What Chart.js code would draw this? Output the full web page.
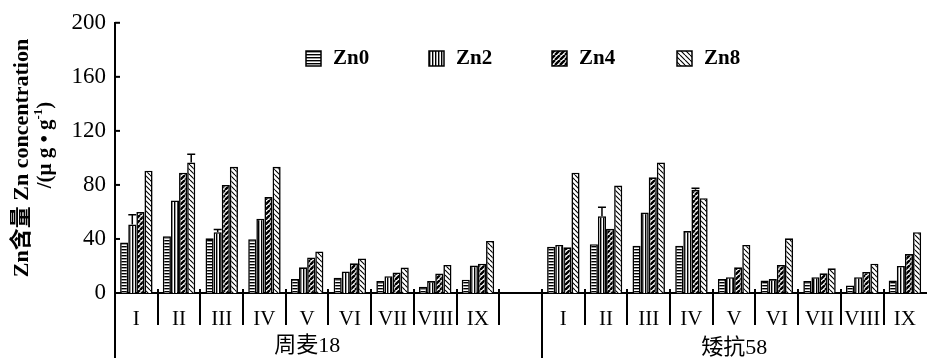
<!DOCTYPE html>
<html>
<head>
<meta charset="UTF-8" />
<title>Zn concentration</title>
<script src="https://cdn.jsdelivr.net/npm/chart.js"></script>
<style>
  body { margin: 0; background: #fff; overflow: hidden; }
</style>
</head>
<body>
<canvas id="chart" width="930" height="362"></canvas>
<script>
// categories: 9 stages per cultivar, one empty slot between the two cultivars
const labels = ['I', 'II', 'III', 'IV', 'V', 'VI', 'VII', 'VIII', 'IX', '',
                'I', 'II', 'III', 'IV', 'V', 'VI', 'VII', 'VIII', 'IX'];
const groups = ['周麦18', '矮抗58'];
const seriesNames = ['Zn0', 'Zn2', 'Zn4', 'Zn8'];

const zn0 = [37.3, 42, 40.5, 39.8, 10.3, 11.3, 8.8, 4.7, 9.8, null, 34.2, 36.1, 34.9, 34.9, 10.3, 9.3, 8.8, 5.6, 9.3];
const zn2 = [50.7, 68.5, 45, 55, 19, 16, 12.4, 8.8, 20.3, null, 35.6, 56.8, 59.5, 45.8, 11.7, 10.3, 11.7, 11.7, 20];
const zn4 = [60, 89, 80, 71, 26.3, 22, 15.1, 14.4, 21.7, null, 33.8, 47.5, 85.6, 76.4, 19, 20.8, 14.6, 15.6, 28.8];
const zn8 = [90.5, 96.6, 93.4, 93.4, 30.7, 25.6, 18.8, 20.8, 38.5, null, 89, 79.5, 96.6, 70.2, 35.6, 40.5, 18.3, 21.7, 45];

// upper error bar lengths (only the visible ones)
const err0 = [0, 0, 0, 0, 0, 0, 0, 0, 0, null, 0, 0, 0, 0, 0, 0, 0, 0, 0];
const err2 = [7.3, 0, 2, 0, 0, 0, 0, 0, 0, null, 0, 6.6, 0, 0, 0, 0, 0, 0, 0];
const err4 = [0, 0, 0, 0, 0, 0, 0, 0, 0, null, 0, 0, 0, 1.2, 0, 0, 0, 0, 0];
const err8 = [0, 6.1, 0, 0, 0, 0, 0, 0, 0, null, 0, 0, 0, 0, 0, 0, 0, 0, 0];

const yTicks = [0, 40, 80, 120, 160, 200];

const serif = '"Liberation Serif", "Times New Roman", serif';
const cjk = '"Liberation Serif", "Noto Sans CJK SC", serif';

function makePattern(kind) {
    const c = document.createElement('canvas');
    const g = c.getContext('2d');
    if (kind === 'h') {
        c.width = 4; c.height = 3;
        g.fillStyle = '#fff'; g.fillRect(0, 0, 4, 3);
        g.fillStyle = '#000'; g.fillRect(0, 0, 4, 1.4);
    } else if (kind === 'v') {
        c.width = 3; c.height = 4;
        g.fillStyle = '#fff'; g.fillRect(0, 0, 3, 4);
        g.fillStyle = '#000'; g.fillRect(0, 0, 1.4, 4);
    } else {
        const s = 5;
        c.width = s; c.height = s;
        g.fillStyle = '#fff'; g.fillRect(0, 0, s, s);
        g.strokeStyle = '#000';
        g.lineWidth = kind === 'd1' ? 2.4 : 1.1;
        g.beginPath();
        for (const o of [-s, 0, s]) {
            if (kind === 'd1') { g.moveTo(o, s); g.lineTo(o + s, 0); }
            else { g.moveTo(o, 0); g.lineTo(o + s, s); }
        }
        g.stroke();
    }
    return g.createPattern(c, 'repeat');
}

const ctx = document.getElementById('chart').getContext('2d');
const fills = [makePattern('h'), makePattern('v'), makePattern('d1'), makePattern('d2')];
const values = [zn0, zn2, zn4, zn8];
const errors = [err0, err2, err4, err8];

const datasets = seriesNames.map((name, i) => ({
    label: name,
    data: values[i],
    backgroundColor: fills[i],
    borderColor: '#000',
    borderWidth: 1.6,
    categoryPercentage: 0.76,
    barPercentage: 1.0
}));

const extras = {
    id: 'extras',
    afterDatasetsDraw(chart) {
        const c = chart.ctx;
        const x = chart.scales.x, y = chart.scales.y;
        const area = chart.chartArea;
        c.save();
        c.strokeStyle = '#000';
        c.fillStyle = '#000';

        // error bars
        c.lineWidth = 1.5;
        chart.data.datasets.forEach((ds, i) => {
            const meta = chart.getDatasetMeta(i);
            meta.data.forEach((bar, j) => {
                const e = errors[i][j];
                if (!e) return;
                const yTop = y.getPixelForValue(values[i][j] + e);
                c.beginPath();
                c.moveTo(bar.x, bar.y);
                c.lineTo(bar.x, yTop);
                c.moveTo(bar.x - 4, yTop);
                c.lineTo(bar.x + 4, yTop);
                c.stroke();
            });
        });

        // inward y ticks
        c.lineWidth = 2;
        yTicks.forEach(v => {
            const py = y.getPixelForValue(v);
            c.beginPath();
            c.moveTo(area.left, py);
            c.lineTo(area.left + 5, py);
            c.stroke();
        });

        // category dividers
        const slot = (area.right - area.left) / labels.length;
        for (let i = 0; i < labels.length; i++) {
            const px = Math.round(area.left + i * slot);
            const long = (i === 0 || i === 10);
            c.beginPath();
            c.moveTo(px, area.bottom - 4);
            c.lineTo(px, long ? 358 : 325);
            c.stroke();
        }

        // cultivar labels
        c.font = '22px ' + cjk;
        c.textAlign = 'center';
        c.textBaseline = 'middle';
        c.fillText(groups[0], (area.left + area.left + 9 * slot) / 2, 346);
        c.fillText(groups[1], (area.left + 10 * slot + area.right) / 2, 348);

        // y title
        c.save();
        c.translate(22, 158);
        c.rotate(-Math.PI / 2);
        c.font = 'bold 22px ' + cjk;
        c.fillText('Zn含量 Zn concentration', 0, 0);
        c.restore();

        c.save();
        c.translate(46, 145);
        c.rotate(-Math.PI / 2);
        c.font = 'bold 21px ' + serif;
        const p1 = '/(μ g • g', sup = '-1', p2 = ')';
        c.textAlign = 'left';
        const w1 = c.measureText(p1).width, w3 = c.measureText(p2).width;
        c.font = 'bold 13px ' + serif;
        const w2 = c.measureText(sup).width;
        let sx = -(w1 + w2 + w3) / 2;
        c.font = 'bold 21px ' + serif;
        c.fillText(p1, sx, 0);
        c.font = 'bold 13px ' + serif;
        c.fillText(sup, sx + w1, -7);
        c.font = 'bold 21px ' + serif;
        c.fillText(p2, sx + w1 + w2, 0);
        c.restore();

        // legend
        const legendX = [306, 429, 552, 677];
        c.font = 'bold 21px ' + serif;
        c.textAlign = 'left';
        seriesNames.forEach((name, i) => {
            c.fillStyle = fills[i];
            c.fillRect(legendX[i], 51, 15, 15);
            c.lineWidth = 1.5;
            c.strokeRect(legendX[i], 51, 15, 15);
            c.fillStyle = '#000';
            c.fillText(name, legendX[i] + 27, 59);
        });
        c.restore();
    }
};

new Chart(ctx, {
    type: 'bar',
    data: { labels: labels, datasets: datasets },
    plugins: [extras],
    options: {
        responsive: false,
        animation: false,
        layout: { padding: { top: 18, left: 0, right: 0, bottom: 0 } },
        plugins: { legend: { display: false }, tooltip: { enabled: false } },
        scales: {
            x: {
                grid: { display: false, drawTicks: false },
                border: { display: true, color: '#000', width: 2 },
                ticks: { color: '#000', font: { family: serif, size: 21 }, padding: 14, maxRotation: 0, autoSkip: false },
                afterFit(s) { s.height = 69; }
            },
            y: {
                min: 0, max: 200,
                grid: { display: false, drawTicks: false },
                border: { display: true, color: '#000', width: 2 },
                ticks: { stepSize: 40, color: '#000', font: { family: serif, size: 23 }, padding: 9 },
                afterFit(s) { s.width = 115; }
            }
        }
    }
});
</script>
</body>
</html>
